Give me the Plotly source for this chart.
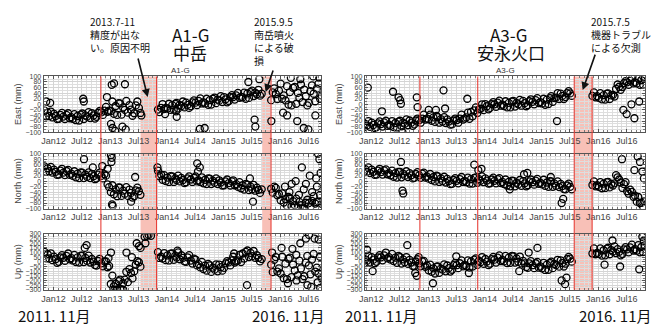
import pandas as pd
import plotly.graph_objects as go

N = None
# sampling dates: 3 per month, Nov 2011 .. Oct 2016
months = pd.period_range("2011-11", "2016-10", freq="M")
sample_days = [4, 14, 24]
dates = [pd.Timestamp(year=m.year, month=m.month, day=d) for m in months for d in sample_days]

# ---------------- A1-G (中岳) ----------------
a1_east = [
    -23, -43, -30, -42, -26, -47,
    -34, -42, -53, -52, -38, -31, -44, -53, -38, -32, -50, -46, -52, -35, -57, -42, -58, -37,
    -33, -53, -40, -44, -28, -49, -32, -40, -51, -45, -31, -24, -29, -38, -23, -9, -27, -23,
    -24, 10, -34, -6, -38, 4, 3, -37, -11, -20, 12, -30, -3, -19, -41, -32, -4, 10,
    -13, -31, N, N, N, N, N, N, N, N, N, N, -19, -28, -13, 1, -17, -13,
    -15, 2, -20, -3, -19, 2, 5, -15, -2, -6, 10, -11, 6, -2, -13, -7, 7, 14,
    6, -3, 12, 21, 3, 7, 3, 20, -2, 15, -1, 20, 24, 4, 17, 13, 29, 8,
    26, 18, 7, 12, 26, 33, 26, 17, 32, 41, 23, 27, 25, 42, 20, 39, 23, 44,
    49, 29, 42, 36, 52, 31, 38, N, N, N, N, N, 15, 43, 57, 37, 19, 49,
    74, 20, 32, 14, 65, -1, 44, -4, 59, 62, 2, 41, 23, 71, 8, 53, 29, -4,
    5, 47, 68, 38, 11, 56, 74, 20, 32, N, N, N,
]
a1_east_out_d = ["2011-11-15", "2011-12-10", "2012-07-10", "2012-07-14", "2012-12-10", "2013-01-10",
                 "2013-01-25", "2013-04-05", "2013-01-05", "2013-01-15", "2013-02-01", "2013-03-20",
                 "2013-04-10", "2013-07-20", "2013-12-20", "2014-03-01", "2014-03-05", "2014-08-01",
                 "2014-09-01", "2015-07-20", "2015-07-25", "2015-06-10", "2015-08-20", "2015-11-05",
                 "2016-01-20", "2016-02-15", "2016-03-10", "2016-04-20", "2016-06-01", "2016-07-01",
                 "2016-08-15", "2016-09-10", "2016-05-10", "2016-08-01"]
a1_east_out_v = [10, 5, 20, 10, 26, 70, 75, 72, -70, -85, -95, -80, -90, -40, -35, -25, -45, -88,
                 -85, -55, -80, 80, 90, -60, -30, -40, 95, -60, -85, -90, -40, 95, 90, 100]

a1_north = [
    54, 34, 47, 36, 52, 31,
    42, 34, 23, 24, 38, 45, 31, 22, 37, 41, 23, 27, 19, 36, 14, 27, 11, 32,
    31, 11, 24, 16, 32, 11, 26, 18, 7, 10, 24, 31, 19, 10, 25, 20, -12, -22,
    -40, -15, -48, -30, -55, -23, -24, -54, -35, -46, -22, -54, -31, -43, -60, -55, -34, -24,
    -37, -50, N, N, N, N, N, N, N, N, N, N, 38, 18, 24, 5, 22, 0,
    13, -3, 18, 17, -3, 10, 4, 20, -1, 12, 4, -7, -4, 10, 17, 6, -3, 12,
    17, -1, 3, -3, 14, -8, 5, -11, 10, 9, -11, 2, -6, 10, -11, 3, -5, -16,
    -15, -1, 6, -7, -16, -1, 3, -15, -11, -21, -4, -26, -15, -31, -10, -13, -33, -20,
    -30, -14, -35, -24, -32, -43, -30, N, N, N, N, N, -28, -42, -20, -25, -52, -47,
    -70, -45, -78, -65, -90, -58, -62, -92, -73, -88, -64, -96, -76, -88, -100, -100, -79, -68,
    -80, -94, -72, -55, -82, -77, -75, -50, -83, N, N, N,
]
a1_north_out_d = ["2012-07-15", "2012-09-10", "2012-11-10", "2012-12-15", "2013-01-05", "2013-01-10",
                  "2013-01-08", "2013-01-12", "2013-01-16", "2013-06-10", "2013-05-15", "2013-11-01",
                  "2014-07-15", "2014-08-01", "2014-07-20", "2015-06-20", "2015-07-10", "2016-02-01",
                  "2016-03-15", "2016-04-10", "2016-05-20", "2016-06-15", "2016-07-10", "2016-08-20",
                  "2016-09-01", "2016-09-10", "2016-08-25", "2016-06-01", "2016-07-25", "2016-05-01",
                  "2016-03-01", "2016-09-18"]
a1_north_out_v = [80, 50, 55, 45, 95, 85, 70, -85, -90, 15, -75, 50, 65, 50, 35, 10, -75, -20,
                  -10, 0, 50, -10, 20, 10, 100, 80, -20, -30, -40, -50, -40, 30]

a1_up = [
    107, 37, 82, 36, 92, 18,
    56, 28, -10, 0, 49, 73, 44, 12, 65, 90, 27, 41, 15, 75, -2, 48, -7, 66,
    67, -3, 42, 11, 67, -7, 31, 3, -35, -40, 9, 33, -16, -48, 5, 5, -58, -44,
    -238, -148, -263, -235, -300, -208, -192, -297, -230, -191, -107, -218, -78, -120, -178, -102, -29, 7,
    -4, -52, N, N, N, N, N, N, N, N, N, N, 105, 42, 56, 35, 95, 18,
    70, 15, 88, 92, 22, 67, 46, 102, 28, 71, 43, 5, 0, 49, 73, 14, -18, 35,
    25, -38, -24, -60, 0, -77, -40, -95, -22, -38, -108, -63, -84, -28, -102, -29, -57, -95,
    -65, -16, 8, -6, -38, 15, 55, -8, 6, 15, 75, -2, 90, 35, 108, 122, 52, 97,
    61, 117, 43, 71, 43, 5, 30, N, N, N, N, N, -30, -110, 22, 52, -105, -70,
    -125, 55, -176, -20, -185, 34, 46, -164, -29, -92, 76, -146, 13, -71, -185, -155, -8, 64,
    -38, -134, 25, 85, -104, -62, -125, 55, -176, N, N, N,
]
a1_up_out_d = ["2012-07-20", "2012-08-01", "2012-12-20", "2013-01-05", "2013-01-20", "2013-02-10",
               "2013-03-05", "2013-03-25", "2013-04-15", "2013-05-20", "2013-06-20", "2013-07-05",
               "2013-07-15", "2013-08-10", "2013-08-25", "2013-09-05", "2013-09-20", "2013-08-15",
               "2014-03-10", "2015-03-10", "2015-06-01", "2015-11-10", "2016-01-10", "2016-03-20",
               "2016-05-10", "2016-06-15", "2016-07-05", "2016-07-20", "2016-08-10", "2016-09-05",
               "2016-08-30", "2016-06-25", "2016-04-15", "2016-02-20", "2016-09-15"]
a1_up_out_v = [150, 180, 40, 100, -300, -300, -290, -300, 100, 50, 200, 170, 150, 270, 280, 290,
               280, 200, 120, 90, -250, 100, 150, 140, 200, 250, 290, -270, 250, 240, -220, -250,
               -200, -230, -280]

# ---------------- A3-G (安永火口) ----------------
a3_east = [
    -63, -83, -70, -76, -60, -81,
    -66, -74, -85, -82, -68, -61, -71, -80, -65, -59, -77, -73, -77, -60, -82, -67, -83, -62,
    -59, -79, -66, -70, -54, -75, -58, -66, -77, -72, -58, -51, -57, -66, -51, -37, -55, -51,
    -54, -37, -59, -47, -63, -42, -46, -66, -53, -62, -46, -67, -54, -62, -73, -72, -58, -51,
    -57, -66, -51, -37, -55, -51, -47, -30, -52, -27, -43, -22, -11, -31, -18, -16, 0, -21,
    1, -7, -18, -13, 1, 8, 0, -9, 6, 13, -5, -1, -6, 11, -11, 5, -11, 10,
    12, -8, 5, 0, 16, -5, 12, 4, -7, -3, 11, 18, 9, 0, 15, 22, 4, 8,
    3, 20, -2, 17, 1, 22, 29, 9, 22, 24, 40, 19, 38, 30, 19, 26, 40, 47,
    39, 30, N, N, N, N, N, N, N, N, N, N, N, N, 30, 43, 25, 29,
    23, 40, 18, 33, 17, 38, 39, 19, 32, 34, 28, 55, 71, 63, 52, 62, 76, 83,
    79, 70, 85, 93, 75, 79, 75, 92, 70, 87, 71, 92,
]
a3_east_out_d = ["2011-12-10", "2012-05-20", "2012-06-25", "2012-07-05", "2012-07-10", "2012-10-20",
                 "2012-10-25", "2012-03-10", "2012-07-20", "2013-01-05", "2013-02-20", "2013-04-10",
                 "2013-04-20", "2013-09-10", "2015-04-10", "2016-06-10", "2016-07-01", "2016-08-20",
                 "2016-08-01", "2016-09-20", "2016-10-15"]
a3_east_out_v = [60, 45, 25, 15, 2, 25, -10, -25, -100, -20, -20, 50, -15, 20, -60, -20, -35, -50,
                 0, 10, 100]

a3_north = [
    51, 31, 44, 34, 50, 29,
    42, 34, 23, 24, 38, 45, 33, 24, 39, 43, 25, 29, 21, 38, 16, 29, 13, 34,
    34, 14, 27, 20, 36, 15, 29, 21, 10, 12, 26, 33, 21, 12, 27, 31, 13, 17,
    9, 26, 4, 15, -1, 20, 17, -3, 10, 0, 16, -5, 8, 0, -11, -10, 4, 11,
    1, -8, 7, 15, -3, 1, -4, 13, -9, 7, -9, 12, 14, -6, 7, 1, 17, -4,
    10, 2, -9, -8, 6, 13, 1, -8, 7, 11, -7, -3, -11, 6, -16, -3, -19, 2,
    1, -19, -6, -12, 4, -17, 0, -8, -19, -15, -1, 6, -4, -13, 2, 8, -10, -6,
    -12, 5, -17, -5, -21, 0, -1, -21, -8, -17, -1, -22, -10, -18, -29, -30, -16, -9,
    -21, -30, N, N, N, N, N, N, N, N, N, N, N, N, -14, -1, -19, -15,
    -21, -4, -26, -9, -25, -4, -3, -23, -10, -16, -8, 22, 14, 6, -5, -25, -11, -4,
    -37, -46, -31, -39, -57, -53, -75, -58, -80, -79, -95, -74,
]
a3_north_out_d = ["2012-07-10", "2012-07-20", "2012-07-25", "2013-10-25", "2013-11-20", "2013-12-10",
                  "2014-09-10", "2014-10-01", "2015-03-01", "2015-05-10", "2015-05-20", "2016-06-01",
                  "2016-08-20", "2016-09-10", "2016-09-25", "2016-10-10", "2016-10-20", "2014-06-10"]
a3_north_out_v = [70, -35, -45, 60, 40, 45, 25, 30, 15, -80, -65, 80, 40, 90, 70, 35, 10, -30]

a3_up = [
    52, -18, 27, 11, 67, -7,
    51, 23, -15, 0, 49, 73, 49, 17, 70, 100, 37, 51, 25, 85, 8, 45, -10, 63,
    52, -18, 27, -4, 52, -22, 21, -7, -45, -45, 4, 28, -16, -48, 5, 10, -53, -39,
    -90, -30, -107, -70, -125, -52, -48, -118, -73, -84, -28, -102, -39, -67, -105, -85, -36, -12,
    -36, -68, -15, 15, -48, -34, -45, 15, -62, 5, -50, 23, 37, -33, 12, -4, 52, -22,
    31, 3, -35, -20, 29, 53, 24, -8, 45, 70, 7, 21, 5, 65, -12, 45, -10, 63,
    62, -8, 37, 1, 57, -17, 11, -17, -55, -65, -16, 8, -36, -68, -15, 0, -63, -49,
    -70, -10, -87, -30, -85, -12, 2, -68, -23, -34, 22, -52, 16, -12, -50, -20, 29, 53,
    34, 2, N, N, N, N, N, N, N, N, N, N, N, N, 90, 145, 82, 96,
    85, 145, 68, 125, 70, 143, 152, 82, 127, 111, 167, 93, 136, 108, 70, 85, 134, 158,
    134, 102, 155, 185, 122, 136, 120, 180, 103, 160, 105, 178,
]
a3_up_out_d = ["2011-12-05", "2012-01-10", "2012-08-20", "2012-10-10", "2012-10-20", "2012-11-01",
               "2013-02-01", "2013-07-01", "2013-09-20", "2014-10-10", "2014-12-05", "2014-08-10",
               "2015-05-10", "2015-06-01", "2015-06-10", "2016-02-10", "2016-04-01", "2016-05-20",
               "2016-09-20", "2016-10-10", "2016-10-20"]
a3_up_out_v = [130, -100, 180, -120, -150, 50, -230, 60, -120, 100, 150, -100, -200, -240, -170,
               -30, 230, -50, -80, 270, 230]

W, H = 659, 327
def px(x): return x / W
def py(y): return 1 - y / H

left_dom = [px(38), px(318)]
right_dom = [px(362), px(645)]
row_dom = {"E": [py(131), py(74)], "N": [py(209), py(153)], "U": [py(292), py(235)]}

panels = [
    ("1", left_dom, "E", a1_east, a1_east_out_d, a1_east_out_v),
    ("2", left_dom, "N", a1_north, a1_north_out_d, a1_north_out_v),
    ("3", left_dom, "U", a1_up, a1_up_out_d, a1_up_out_v),
    ("4", right_dom, "E", a3_east, a3_east_out_d, a3_east_out_v),
    ("5", right_dom, "N", a3_north, a3_north_out_d, a3_north_out_v),
    ("6", right_dom, "U", a3_up, a3_up_out_d, a3_up_out_v),
]
ytitles = {"E": "East (mm)", "N": "North (mm)", "U": "Up (mm)"}
left_range = ["2011-10-29", "2016-09-21"]
right_range = ["2011-11-20", "2016-10-28"]

fig = go.Figure()
layout = {}
for k, xdom, row, vals, od, ov in panels:
    assert len(vals) == len(dates), (k, len(vals))
    xs = list(dates) + [pd.Timestamp(d) for d in od]
    ys = list(vals) + list(ov)
    fig.add_trace(go.Scatter(
        x=xs, y=ys, mode="markers", xaxis="x" + k, yaxis="y" + k, showlegend=False,
        marker=dict(symbol="circle-open", size=7, color="black", line=dict(width=1.3, color="black")),
    ))
    is_up = row == "U"
    xr = left_range if xdom is left_dom else right_range
    layout["xaxis" + k] = dict(
        domain=xdom, anchor="y" + k, range=xr, type="date",
        tick0="2012-01-01", dtick="M6", tickformat="%b%y",
        tickfont=dict(size=9, color="#444", family="Liberation Sans"),
        ticks="inside", ticklen=3, tickcolor="#555", mirror="allticks",
        showline=True, linecolor="#555", linewidth=1,
        showgrid=True, gridcolor="#d4d4d4", gridwidth=0.6,
        minor=dict(dtick="M1", tick0="2012-01-01", showgrid=True, gridcolor="#dedede", gridwidth=0.5,
                   ticks="inside", ticklen=2, tickcolor="#777"),
        zeroline=False,
    )
    layout["yaxis" + k] = dict(
        domain=row_dom[row], anchor="x" + k,
        range=[-300, 300] if is_up else [-100, 100],
        dtick=50 if is_up else 20, tick0=0,
        tickfont=dict(size=7, color="#444", family="Liberation Sans"),
        ticks="inside", ticklen=3, tickcolor="#555", mirror="allticks",
        showline=True, linecolor="#555", linewidth=1,
        showgrid=True, gridcolor="#d4d4d4", gridwidth=0.6,
        minor=dict(dtick=25 if is_up else 10, showgrid=True, gridcolor="#dedede", gridwidth=0.5,
                   ticks="inside", ticklen=2, tickcolor="#777"),
        zeroline=False,
        title=dict(text=ytitles[row], font=dict(size=9, color="#444", family="Liberation Sans"), standoff=2),
    )

# event markers: red lines and shaded gaps
shade_col = "rgba(243,150,135,0.6)"
line_col = "#e8413a"
yb, yt = py(292), py(74)
a1_lines = ["2012-11-01", "2013-10-26", "2015-11-03"]
a1_shades = [("2013-07-15", "2013-10-26"), ("2015-09-07", "2015-11-03")]
a3_lines = ["2012-11-09", "2013-11-16", "2015-07-30", "2015-11-22"]
a3_shades = [("2015-07-30", "2015-11-22")]
shapes = []
for xref, lines, shades in [("x", a1_lines, a1_shades), ("x4", a3_lines, a3_shades)]:
    for s0, s1 in shades:
        shapes.append(dict(type="rect", xref=xref, yref="paper", x0=s0, x1=s1, y0=yb, y1=yt,
                           fillcolor=shade_col, line=dict(width=0), layer="below"))
    for d in lines:
        shapes.append(dict(type="line", xref=xref, yref="paper", x0=d, x1=d, y0=yb, y1=yt,
                           line=dict(color=line_col, width=1.1), layer="above"))

jp = "Noto Sans CJK JP"
ann = []
def text(x, y, t, size, xanchor="left", color="#111", fam=jp):
    ann.append(dict(x=px(x), y=py(y), xref="paper", yref="paper", text=t, showarrow=False,
                    xanchor=xanchor, yanchor="middle", align="left",
                    font=dict(size=size, color=color, family=fam)))
def arrow(tx, ty, hx, hy):
    ann.append(dict(x=px(hx), y=py(hy), xref="paper", yref="paper", text="", showarrow=True,
                    ax=tx - hx, ay=ty - hy, arrowhead=2, arrowsize=1, arrowwidth=1.6, arrowcolor="#111"))

text(176, 68, "A1-G", 8, "center", "#333", "Liberation Sans")
text(504, 68, "A3-G", 8, "center", "#333", "Liberation Sans")
text(186, 31, "A1-G", 17, "center")
text(186, 50, "中岳", 17, "center")
text(507, 31, "A3-G", 17, "center")
text(510, 50, "安永火口", 17, "center")
text(83, 31, "2013.7-11<br>精度が出な<br>い。原因不明", 10)
text(248, 38, "2015.9.5<br>南岳噴火<br>による破<br>損", 10)
text(588, 31, "2015.7.5<br>機器トラブル<br>による欠測", 10)
arrow(133, 55, 143, 95)
arrow(270, 67, 262, 90)
arrow(595, 51, 582, 88)
text(10, 318, "2011. 11月", 15)
text(246, 318, "2016. 11月", 15)
text(340, 318, "2011. 11月", 15)
text(576, 318, "2016. 11月", 15)

fig.update_layout(
    width=W, height=H, margin=dict(l=0, r=0, t=0, b=0),
    paper_bgcolor="white", plot_bgcolor="rgba(0,0,0,0)",
    shapes=shapes, annotations=ann, **layout,
)
fig.write_html("out.html", config={"displayModeBar": False},
               post_script="document.body.style.margin='0px';document.body.style.overflow='hidden';")
